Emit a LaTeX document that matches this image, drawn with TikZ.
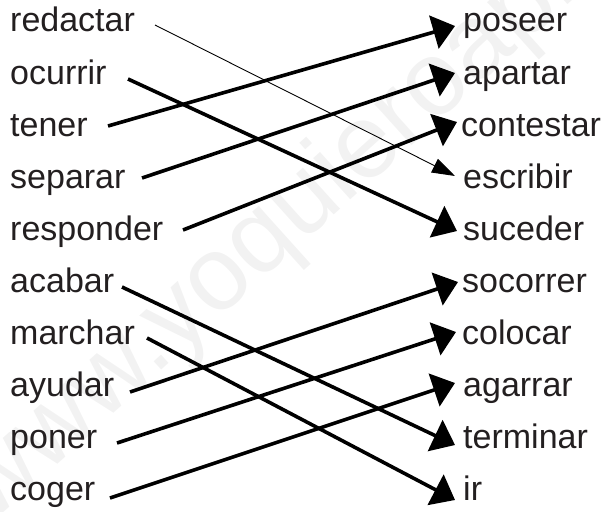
\documentclass[tikz,border=0pt]{standalone}
\usepackage{fontspec}
\setmainfont{Liberation Sans}
\usetikzlibrary{arrows.meta}
\definecolor{ink}{HTML}{231F20}
\definecolor{wm}{HTML}{F2F2F2}
\begin{document}
\begin{tikzpicture}[x=1pt,y=-1pt,
  word/.style={anchor=base west, inner sep=0pt, text=ink, font=\fontsize{34}{38}\selectfont},
  bigarrow/.style={line width=3.6pt, draw=black, -{Triangle[length=22pt,width=34pt]}},
  thinarrow/.style={line width=0.9pt, draw=black, -{Triangle[length=23pt,width=15pt]}}]
\useasboundingbox (0,0) rectangle (604,511);
\begin{scope}
\clip (0,0) rectangle (604,511);
\node[rotate=42, anchor=base west, inner sep=0pt, text=wm, font=\fontsize{105}{120}\selectfont] (wmark) at (-10,525) {www.yoquieroaprobar.es};
\end{scope}
% left column
\node[word] (l1) at (10,32) {redactar};
\node[word] (l2) at (10,84) {ocurrir};
\node[word] (l3) at (10,136) {tener};
\node[word] (l4) at (10,188) {separar};
\node[word] (l5) at (10,240) {responder};
\node[word] (l6) at (10,292) {acabar};
\node[word] (l7) at (10,344) {marchar};
\node[word] (l8) at (10,396) {ayudar};
\node[word] (l9) at (10,448) {poner};
\node[word] (l10) at (10,500) {coger};
% right column
\node[word] (r1) at (463,32) {poseer};
\node[word] (r2) at (463,84) {apartar};
\node[word] (r3) at (461,136) {contestar};
\node[word] (r4) at (463,188) {escribir};
\node[word] (r5) at (463,240) {suceder};
\node[word] (r6) at (462,292) {socorrer};
\node[word] (r7) at (462,344) {colocar};
\node[word] (r8) at (463,396) {agarrar};
\node[word] (r9) at (463,448) {terminar};
\node[word] (r10) at (463,500) {ir};
% connectors
\draw[thinarrow] ([shift={(145,-7)}]l1.base west) -- ([shift={(-8,-12)}]r4.base west);
\draw[bigarrow] ([shift={(118,-5)}]l2.base west) -- ([shift={(-6,-9)}]r5.base west);
\draw[bigarrow] ([shift={(98,-10)}]l3.base west) -- ([shift={(-8,-6)}]r1.base west);
\draw[bigarrow] ([shift={(132,-10)}]l4.base west) -- ([shift={(-8,-11)}]r2.base west);
\draw[bigarrow] ([shift={(173,-10)}]l5.base west) -- ([shift={(-4,-14)}]r3.base west);
\draw[bigarrow] ([shift={(112,-5)}]l6.base west) -- ([shift={(-8,-3)}]r9.base west);
\draw[bigarrow] ([shift={(137,-6)}]l7.base west) -- ([shift={(-8,0)}]r10.base west);
\draw[bigarrow] ([shift={(120,-4)}]l8.base west) -- ([shift={(-4,-10)}]r6.base west);
\draw[bigarrow] ([shift={(107,-5)}]l9.base west) -- ([shift={(-6,-12)}]r7.base west);
\draw[bigarrow] ([shift={(100,-2)}]l10.base west) -- ([shift={(-8,-13)}]r8.base west);
\end{tikzpicture}
\end{document}
